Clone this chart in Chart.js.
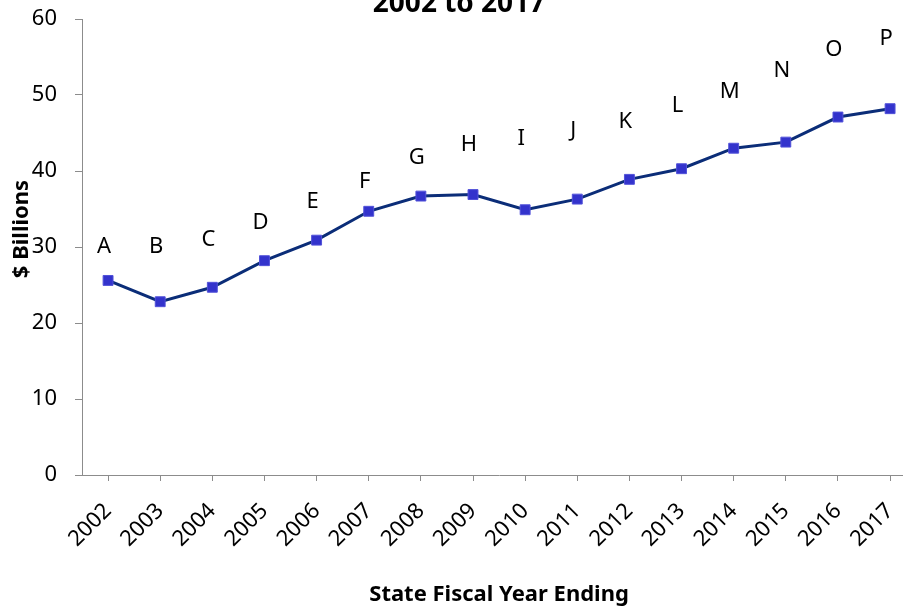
<!DOCTYPE html>
<html>
<head>
<meta charset="utf-8">
<script src="https://cdn.jsdelivr.net/npm/chart.js@4.4.1/dist/chart.umd.min.js"></script>
<style>
  html, body { margin: 0; padding: 0; background: #fff; overflow: hidden; }
  canvas { display: block; }
</style>
</head>
<body>
<!-- plot runs a little past the right edge of the window -->
<canvas id="chart" width="926" height="608"></canvas>
<script>
const years = ['2002', '2003', '2004', '2005', '2006', '2007', '2008', '2009',
               '2010', '2011', '2012', '2013', '2014', '2015', '2016', '2017'];
const billions = [25.6, 22.8, 24.7, 28.2, 30.9, 34.7, 36.7, 36.9,
                  34.9, 36.3, 38.9, 40.3, 43.0, 43.8, 47.1, 48.2];
const letters = ['A', 'B', 'C', 'D', 'E', 'F', 'G', 'H',
                 'I', 'J', 'K', 'L', 'M', 'N', 'O', 'P'];
const letterLevels = [30.0, 30.1, 30.9, 33.2, 35.9, 38.6, 41.8, 43.5,
                      44.3, 45.3, 46.5, 48.6, 50.4, 53.2, 55.9, 57.4];
const yMin = 0, yMax = 60, yStep = 10;

const textFont = '"Noto Sans", "Open Sans", sans-serif';
const lineColor = '#0b2d78';
const markerColor = '#3333cc';

// letters over the line, chart heading and the vertical axis caption
const extraText = {
    id: 'extraText',
    afterDatasetsDraw(chart) {
        const ctx = chart.ctx;
        const meta = chart.getDatasetMeta(1);
        ctx.save();
        ctx.fillStyle = '#000';
        ctx.textAlign = 'center';
        ctx.textBaseline = 'middle';
        ctx.font = `22px ${textFont}`;
        meta.data.forEach((pt, i) => ctx.fillText(letters[i], pt.x - 4, pt.y));

        ctx.font = `bold 28px ${textFont}`;
        ctx.textBaseline = 'alphabetic';
        ctx.fillText('2002 to 2017', 459, 12);

        ctx.translate(22, 229);
        ctx.rotate(-Math.PI / 2);
        ctx.font = `bold 22px ${textFont}`;
        ctx.textBaseline = 'middle';
        ctx.fillText('$ Billions', 0, 0);
        ctx.restore();
    }
};

new Chart(document.getElementById('chart'), {
    type: 'line',
    plugins: [extraText],
    data: {
        labels: years,
        datasets: [
            {
                data: billions,
                borderColor: lineColor,
                borderWidth: 3,
                tension: 0,
                pointStyle: 'rect',
                pointRadius: 7,
                pointBackgroundColor: markerColor,
                pointBorderColor: '#5252d9',
                pointBorderWidth: 1
            },
            {
                data: letterLevels,
                showLine: false,
                pointRadius: 0
            }
        ]
    },
    options: {
        responsive: false,
        animation: false,
        devicePixelRatio: 1,
        layout: { padding: { left: 0, right: 0, top: 19, bottom: 0 } },
        plugins: {
            legend: { display: false },
            tooltip: { enabled: false },
            title: { display: false }
        },
        scales: {
            x: {
                offset: true,
                grid: { drawOnChartArea: false, offset: false, tickLength: 6, color: '#8c8c8c' },
                border: { color: '#8c8c8c', width: 1 },
                ticks: {
                    color: '#000',
                    minRotation: 45,
                    maxRotation: 45,
                    padding: 17,
                    font: { family: textFont, size: 22 }
                },
                title: {
                    display: true,
                    text: 'State Fiscal Year Ending',
                    color: '#000',
                    padding: 0,
                    font: { family: textFont, size: 22, weight: 'bold' }
                },
                afterFit: s => { s.height = 133; s.paddingTop = 0; }
            },
            y: {
                min: yMin,
                max: yMax,
                grid: { drawOnChartArea: false, tickLength: 7, color: '#8c8c8c' },
                border: { color: '#8c8c8c', width: 1 },
                ticks: {
                    stepSize: yStep,
                    color: '#000',
                    padding: 18,
                    font: { family: textFont, size: 22 }
                },
                afterFit: s => { s.width = 82; s.paddingTop = 0; }
            }
        }
    }
});
</script>
</body>
</html>
